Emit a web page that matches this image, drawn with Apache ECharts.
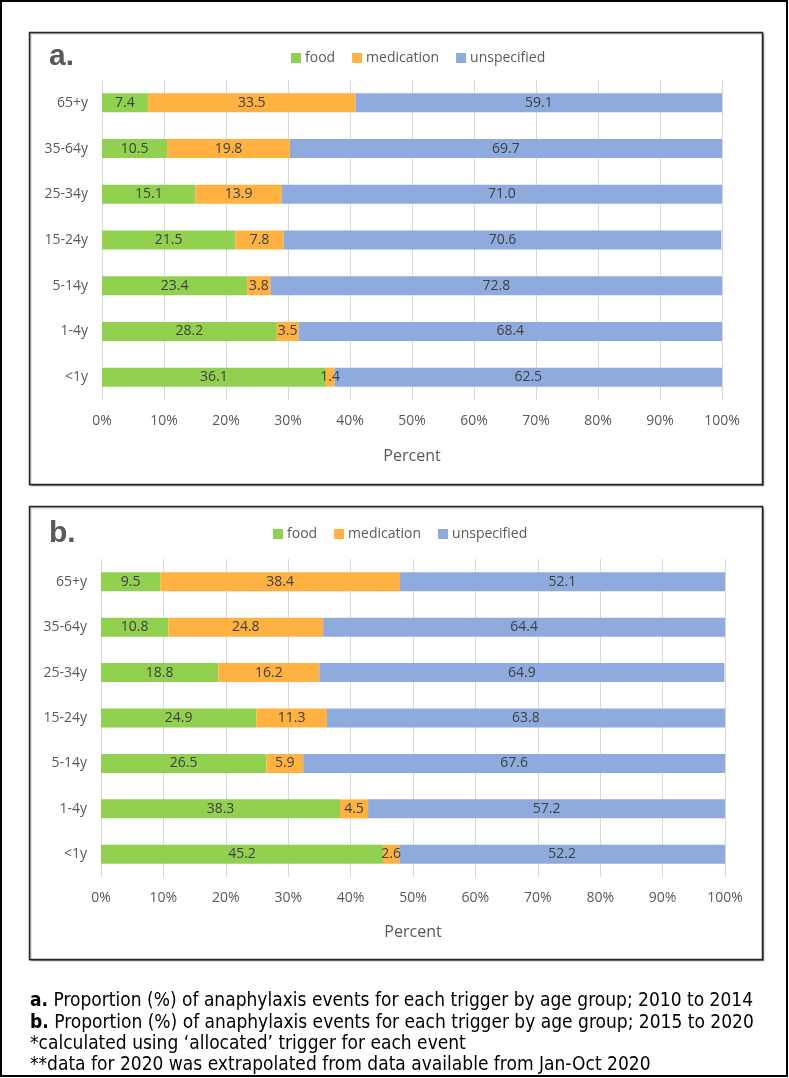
<!DOCTYPE html>
<html>
<head>
<meta charset="utf-8">
<script src="https://cdn.jsdelivr.net/npm/echarts@6/dist/echarts.min.js"></script>
<style>
  html, body { margin: 0; padding: 0; background: #fff; }
  #chart { width: 789px; height: 1078px; }
</style>
</head>
<body>
<div id="chart"></div>
<script>
// age groups, bottom to top
const ageGroups = ['<1y', '1-4y', '5-14y', '15-24y', '25-34y', '35-64y', '65+y'];
const triggers = ['food', 'medication', 'unspecified'];
const xTicks = [0, 10, 20, 30, 40, 50, 60, 70, 80, 90, 100];

// a. 2010 to 2014
const foodA = [36.1, 28.2, 23.4, 21.5, 15.1, 10.5, 7.4];
const medicationA = [1.4, 3.5, 3.8, 7.8, 13.9, 19.8, 33.5];
const unspecifiedA = [62.5, 68.4, 72.8, 70.6, 71.0, 69.7, 59.1];

// b. 2015 to 2020
const foodB = [45.2, 38.3, 26.5, 24.9, 18.8, 10.8, 9.5];
const medicationB = [2.6, 4.5, 5.9, 11.3, 16.2, 24.8, 38.4];
const unspecifiedB = [52.2, 57.2, 67.6, 63.8, 64.9, 64.4, 52.1];

const captionLines = [
  ['a.', ' Proportion (%) of anaphylaxis events for each trigger by age group; 2010 to 2014'],
  ['b.', ' Proportion (%) of anaphylaxis events for each trigger by age group; 2015 to 2020'],
  ['', '*calculated using \u2018allocated\u2019 trigger for each event'],
  ['', '**data for 2020 was extrapolated from data available from Jan-Oct 2020']
];

const colors = ['#92D050', '#FFB142', '#8FAADC'];
const font = "'Open Sans', sans-serif";
const capFont = "'Liberation Sans Narrow', 'DejaVu Sans Condensed', 'Liberation Sans', sans-serif";

const chart = echarts.init(document.getElementById('chart'), null, { renderer: 'canvas' });

function xAxisFor(gridIndex, nameGap) {
  return {
    type: 'value', gridIndex: gridIndex, min: 0, max: 100, interval: 10,
    axisLine: { show: false }, axisTick: { show: false },
    splitLine: { lineStyle: { color: '#D9D9D9', width: 1 } },
    axisLabel: { formatter: '{value}%', color: '#595959', fontSize: 14, fontFamily: font, margin: 14 },
    name: 'Percent', nameLocation: 'middle', nameGap: nameGap,
    nameTextStyle: { color: '#595959', fontSize: 16, fontFamily: font }
  };
}

function yAxisFor(gridIndex) {
  return {
    type: 'category', gridIndex: gridIndex, data: ageGroups,
    axisLine: { show: false }, axisTick: { show: false },
    axisLabel: { color: '#595959', fontSize: 14, fontFamily: font, margin: 14 }
  };
}

function seriesFor(values, idx, stack) {
  return values.map((v, i) => ({
    name: triggers[i], type: 'bar', stack: stack,
    xAxisIndex: idx, yAxisIndex: idx,
    barWidth: 19,
    itemStyle: { color: colors[i] },
    label: {
      show: true, position: 'inside', color: '#404040', fontSize: 14, fontFamily: font,
      formatter: p => p.value.toFixed(1)
    },
    emphasis: { disabled: true },
    data: v
  }));
}

function legendFor(left, top) {
  return {
    left: left, top: top, padding: 0, itemGap: 17, itemWidth: 10, itemHeight: 10,
    icon: 'rect', data: triggers,
    textStyle: { color: '#595959', fontSize: 14, fontFamily: font, padding: [0, 0, 0, -1] }
  };
}

const caption = captionLines.map((ln, i) => ({
  type: 'text', left: 30, top: 992 + i * 21.3,
  style: {
    text: (ln[0] ? '{b|' + ln[0] + '}' : '') + '{n|' + ln[1] + '}',
    rich: {
      b: { fontWeight: 'bold', fontSize: 19, fontFamily: capFont, fill: '#000' },
      n: { fontSize: 19, fontFamily: capFont, fill: '#000' }
    }
  }
}));

chart.setOption({
  animation: false,
  color: colors,
  grid: [
    { left: 102, width: 620, top: 80, height: 320 },
    { left: 101, width: 624, top: 559, height: 318 }
  ],
  legend: [legendFor(291, 51), legendFor(273, 527)],
  xAxis: [xAxisFor(0, 48), xAxisFor(1, 47)],
  yAxis: [yAxisFor(0), yAxisFor(1)],
  series: [
    ...seriesFor([foodA, medicationA, unspecifiedA], 0, 'a'),
    ...seriesFor([foodB, medicationB, unspecifiedB], 1, 'b')
  ],
  graphic: [
    { type: 'rect', z: -1, shape: { x: 1, y: 1, width: 786, height: 1075 },
      style: { fill: 'none', stroke: '#000', lineWidth: 2 } },
    { type: 'rect', z: -1, shape: { x: 29.5, y: 32.5, width: 733, height: 452 },
      style: { fill: '#fff', stroke: '#262626', lineWidth: 1.5, shadowColor: 'rgba(0,0,0,0.35)', shadowOffsetX: 1, shadowOffsetY: 1, shadowBlur: 1 } },
    { type: 'rect', z: -1, shape: { x: 29.5, y: 506.5, width: 733, height: 453 },
      style: { fill: '#fff', stroke: '#262626', lineWidth: 1.5, shadowColor: 'rgba(0,0,0,0.35)', shadowOffsetX: 1, shadowOffsetY: 1, shadowBlur: 1 } },
    { type: 'text', left: 49, top: 42,
      style: { text: 'a.', font: "bold 30px 'Liberation Sans', sans-serif", fill: '#595959' } },
    { type: 'text', left: 49, top: 519,
      style: { text: 'b.', font: "bold 30px 'Liberation Sans', sans-serif", fill: '#595959' } },
    ...caption
  ]
});
</script>
</body>
</html>
